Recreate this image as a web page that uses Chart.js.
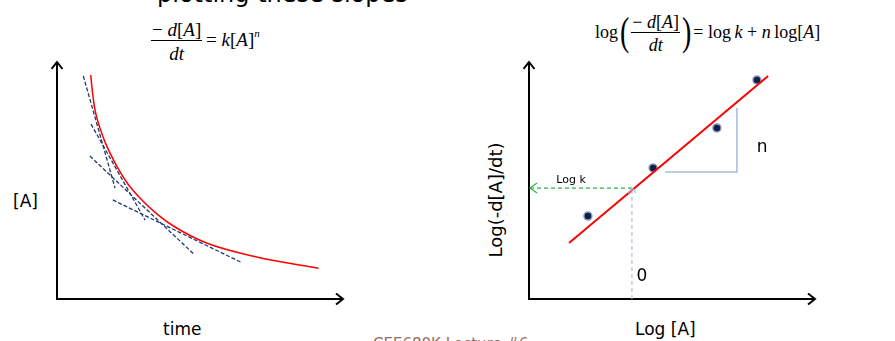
<!DOCTYPE html>
<html>
<head>
<meta charset="utf-8">
<script src="https://cdn.jsdelivr.net/npm/chart.js@4/dist/chart.umd.min.js"></script>
<style>
  html, body { margin: 0; padding: 0; background: #fff; width: 895px; height: 341px; overflow: hidden; position: relative; }
  .box { position: absolute; }
  .lbl { position: absolute; font-family: "DejaVu Sans", sans-serif; color: #000; white-space: nowrap; line-height: 1; }
  .eq { position: absolute; font-family: "Liberation Serif", "Times New Roman", serif; font-size: 19px; color: #000; white-space: nowrap; line-height: 1; }
  .frac { display: inline-block; vertical-align: middle; text-align: center; }
  .frac .num { display: block; border-bottom: 1px solid #000; padding: 0 1px 1px 1px; }
  .frac .den { display: block; padding-top: 3px; }
  .paren { font-size: 40px; vertical-align: middle; display: inline-block; transform: scaleX(0.7); position: relative; top: -2px; }
</style>
</head>
<body>
<div class="lbl" style="left:157px; top:-18px; font-size:24px;">plotting these slopes</div>

<div class="eq" style="left:151px; top:20px;">
  <span class="frac"><span class="num">&minus; <i>d</i>[<i>A</i>]</span><span class="den"><i>dt</i></span></span>&thinsp;= <i>k</i>[<i>A</i>]<sup style="font-size:11px;position:relative;top:-2px;"><i>n</i></sup>
</div>

<div class="eq" style="left:595px; top:13px; font-size:18px;">
  log<span class="paren">(</span><span class="frac"><span class="num">&minus; <i>d</i>[<i>A</i>]</span><span class="den"><i>dt</i></span></span><span class="paren">)</span>= log&thinsp;<i>k</i> + <i>n</i>&thinsp;log[<i>A</i>]
</div>

<div class="box" style="left:51px; top:56px; width:298px; height:249px;"><canvas id="left" width="298" height="249"></canvas></div>
<div class="box" style="left:523px; top:56px; width:298px; height:249px;"><canvas id="right" width="298" height="249"></canvas></div>

<div class="lbl" style="left:13px; top:193px; font-size:17px;">[A]</div>
<div class="lbl" style="left:163px; top:321px; font-size:17px;">time</div>
<div class="lbl" style="left:635px; top:321px; font-size:17px;">Log [A]</div>
<div class="lbl" style="left:496px; top:200px; font-size:18px; transform: translate(-50%,-50%) rotate(-90deg);">Log(-d[A]/dt)</div>
<div class="lbl" style="left:373px; top:337px; font-size:15px; color:#9b6a5c;">CEE680K Lecture #6</div>

<script>
// Concentration vs time decay curve
const curveTime = [1.18, 1.24, 1.33, 1.50, 1.68, 2.09, 2.48, 2.90, 3.49, 4.07, 5.23, 6.98, 9.14];
const curveConc = [9.45, 8.73, 7.97, 7.22, 6.62, 5.61, 4.85, 4.26, 3.59, 3.08, 2.36, 1.77, 1.30];

// Tangent lines (slopes = rates) drawn along the curve
const tangent1X = [0.92, 2.03], tangent1Y = [9.41, 4.68];
const tangent2X = [1.19, 3.08], tangent2Y = [7.38, 3.33];
const tangent3X = [1.15, 4.79], tangent3Y = [6.03, 1.89];
const tangent4X = [1.95, 6.42], tangent4Y = [4.18, 1.56];

// Log-log rate data and fitted line
const logA = [2.06, 4.34, 6.57, 7.97];
const logRate = [3.50, 5.53, 7.22, 9.24];
const fitLogA = [1.40, 8.36];
const fitLogRate = [2.36, 9.41];

// Intercept guides: log[A] = 0 and the log k level
const zeroLogA = 3.60;
const logKLevel = 4.68;

// Slope triangle
const triX = [4.76, 7.27, 7.27];
const triY = [5.36, 5.36, 8.06];

const pts = (xs, ys) => xs.map((x, i) => ({ x, y: ys[i] }));

function chevron(ctx, tipX, tipY, dx, dy, size, half) {
  // dx,dy: unit direction the arrow points to
  const px = -dy, py = dx;
  ctx.beginPath();
  ctx.moveTo(tipX - dx * size + px * half, tipY - dy * size + py * half);
  ctx.lineTo(tipX, tipY);
  ctx.lineTo(tipX - dx * size - px * half, tipY - dy * size - py * half);
  ctx.stroke();
}

const axesArrows = {
  id: 'axesArrows',
  beforeDatasetsDraw(chart) {
    const { ctx, chartArea: a } = chart;
    ctx.save();
    ctx.strokeStyle = '#000';
    ctx.lineWidth = 2;
    ctx.lineCap = 'butt';
    ctx.beginPath();
    ctx.moveTo(a.left, a.top);
    ctx.lineTo(a.left, a.bottom);
    ctx.lineTo(a.right, a.bottom);
    ctx.stroke();
    ctx.lineJoin = 'miter';
    chevron(ctx, a.left, a.top, 0, -1, 7, 5.5);
    chevron(ctx, a.right, a.bottom, 1, 0, 7, 5.5);
    ctx.restore();
  }
};

const baseOptions = {
  responsive: false,
  animation: false,
  layout: { padding: 6 },
  plugins: { legend: { display: false }, tooltip: { enabled: false } },
  scales: {
    x: { type: 'linear', min: 0, max: 10, display: false },
    y: { type: 'linear', min: 0, max: 10, display: false }
  },
  elements: { point: { radius: 0 } }
};

const dashed = (xs, ys) => ({
  data: pts(xs, ys), showLine: true, borderColor: '#1f3a6e', borderWidth: 1.3,
  borderDash: [4, 2], pointRadius: 0, fill: false, clip: false
});

new Chart(document.getElementById('left'), {
  type: 'scatter',
  data: {
    datasets: [
      dashed(tangent1X, tangent1Y),
      dashed(tangent2X, tangent2Y),
      dashed(tangent3X, tangent3Y),
      dashed(tangent4X, tangent4Y),
      { data: pts(curveTime, curveConc), showLine: true, borderColor: '#ff0000', borderWidth: 1.5,
        cubicInterpolationMode: 'monotone', pointRadius: 0, fill: false, clip: false }
    ]
  },
  options: baseOptions,
  plugins: [axesArrows]
});

const rightAnnotations = {
  id: 'rightAnnotations',
  afterDatasetsDraw(chart) {
    const { ctx, scales: { x, y } } = chart;
    ctx.save();
    // arrowhead of the log k guide at the y axis
    ctx.strokeStyle = '#2fb24a';
    ctx.lineWidth = 1.2;
    chevron(ctx, x.getPixelForValue(0) + 1, y.getPixelForValue(logKLevel), -1, 0, 7, 5);
    // arrowhead of the log[A] = 0 guide
    ctx.strokeStyle = '#a9c3df';
    chevron(ctx, x.getPixelForValue(zeroLogA), y.getPixelForValue(logKLevel), 0, -1, 5, 4);
    // text annotations
    ctx.fillStyle = '#000';
    ctx.textAlign = 'center';
    ctx.textBaseline = 'middle';
    ctx.font = '11px "DejaVu Sans", sans-serif';
    ctx.fillText('Log k', x.getPixelForValue(1.47), y.getPixelForValue(5.02));
    ctx.font = '17px "DejaVu Sans", sans-serif';
    ctx.fillText('n', x.getPixelForValue(8.15), y.getPixelForValue(6.41));
    ctx.fillText('0', x.getPixelForValue(3.95), y.getPixelForValue(0.93));
    ctx.restore();
  }
};

new Chart(document.getElementById('right'), {
  type: 'scatter',
  data: {
    datasets: [
      { data: pts([zeroLogA, zeroLogA], [0, logKLevel]), showLine: true, borderColor: '#a9c3df',
        borderWidth: 1.2, borderDash: [4, 3], pointRadius: 0, clip: false },
      { data: pts([zeroLogA, 0.05], [logKLevel, logKLevel]), showLine: true, borderColor: '#2fb24a',
        borderWidth: 1.2, borderDash: [4, 3], pointRadius: 0, clip: false },
      { data: pts(triX, triY), showLine: true, borderColor: '#a6bbd6', borderWidth: 1.5,
        pointRadius: 0, clip: false },
      { data: pts(fitLogA, fitLogRate), showLine: true, borderColor: '#ff0000', borderWidth: 2,
        pointRadius: 0, clip: false },
      { data: pts(logA, logRate), showLine: false, pointRadius: 4, backgroundColor: '#0c1f4e',
        borderColor: '#8d9bb4', borderWidth: 1.5, clip: false }
    ]
  },
  options: baseOptions,
  plugins: [axesArrows, rightAnnotations]
});
</script>
</body>
</html>
